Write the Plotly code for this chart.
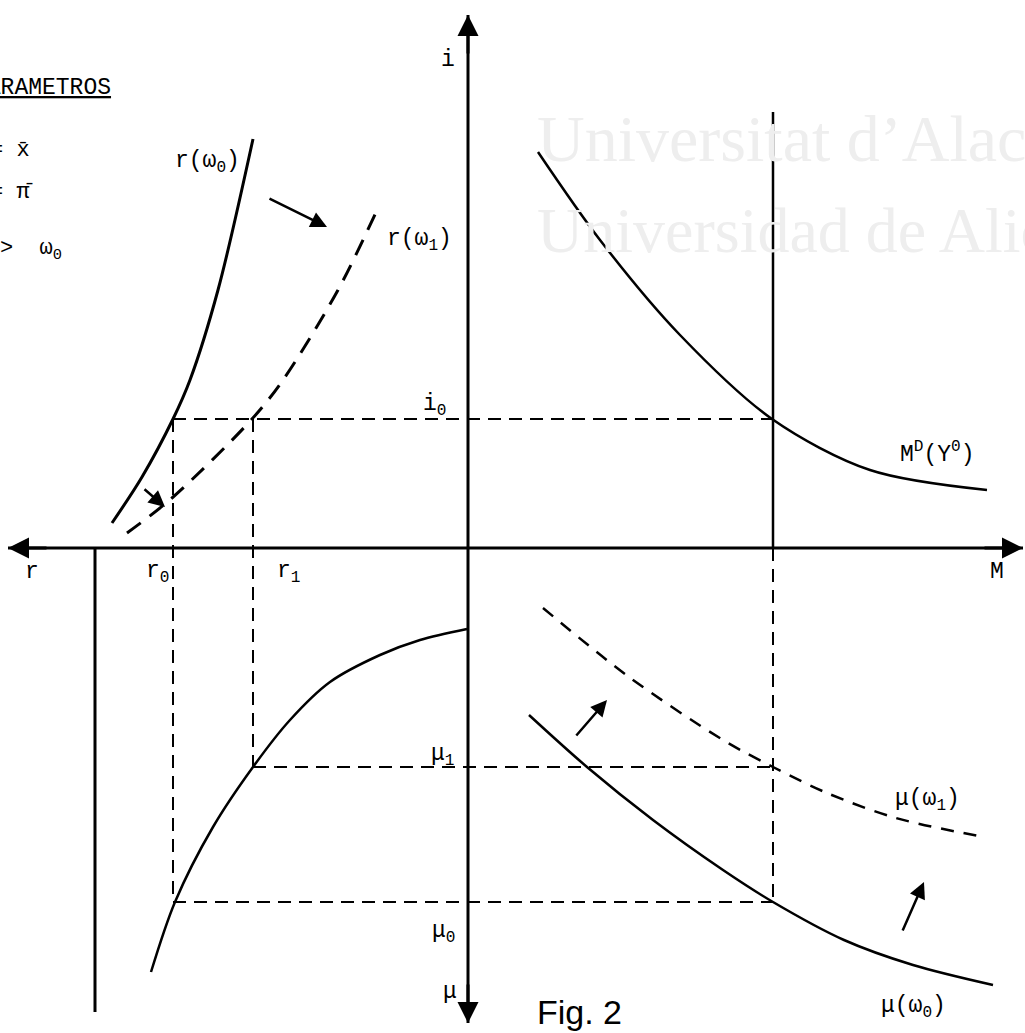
import plotly.graph_objects as go

# ---- data (units relative to the axes origin; x right = M, x left = r, y up = i, y down = mu) ----
r_w0_x = [-356, -326, -295, -278, -250, -215]
r_w0_y = [25, 71, 129, 168, 258, 409]

r_w1_x = [-341, -296, -216, -185, -130, -90]
r_w1_y = [15, 50, 129, 168, 258, 340]

md_x = [70, 132, 212, 304, 402, 519]
md_y = [396, 308, 213, 129, 78, 58]

mu_r_x = [-317, -293, -255, -215, -178, -138, -88, -48, -1]
mu_r_y = [-424, -354, -279, -219, -172, -134, -107, -92, -81]

mu_w0_x = [61, 119, 185, 255, 305, 376, 445, 525]
mu_w0_y = [-167, -219, -272, -322, -354, -392, -417, -437]

mu_w1_x = [75, 161, 255, 305, 359, 428, 516]
mu_w1_y = [-60, -129, -192, -219, -245, -270, -289]

# equilibrium reference values
i0 = 129
mu1 = -219
mu0 = -354
r0 = -295
r1 = -215
M0 = 305
i_top = 436
left_line_x = -373
left_line_bottom = -464

# axes extents
x_axis = [-460, 555]
y_axis = [533, -475]

# shift arrows (tail x, tail y, head x, head y)
shift_arrows = [
    (-200, 350, -141, 321),
    (-325, 60, -303, 41),
    (107, -189, 139, -152),
    (434, -384, 456, -334),
]

fig = go.Figure()

def line(x, y, width=2.5, dash=None, shape="spline"):
    fig.add_trace(go.Scatter(
        x=x, y=y, mode="lines",
        line=dict(color="black", width=width, dash=dash, shape=shape, smoothing=0.9),
        hoverinfo="skip", showlegend=False))

DROP = "13px,8px"

# watermark
fig.add_annotation(x=67, y=410, text="Universitat d\u2019Alac", showarrow=False, xanchor="left",
                   font=dict(family="Liberation Serif", size=66, color="#eeeeee"))
fig.add_annotation(x=67, y=318, text="Universidad de Alic", showarrow=False, xanchor="left",
                   font=dict(family="Liberation Serif", size=64, color="#eeeeee"))

# axes
line(x_axis, [0, 0], width=3, shape="linear")
line([0, 0], y_axis, width=3, shape="linear")
line([left_line_x, left_line_x], [0, left_line_bottom], width=3, shape="linear")
line([M0, M0], [0, i_top], width=2.5, shape="linear")

# drop lines
line([r0, M0], [i0, i0], width=2, dash=DROP, shape="linear")
line([r1, M0], [mu1, mu1], width=2, dash=DROP, shape="linear")
line([r0, M0], [mu0, mu0], width=2, dash=DROP, shape="linear")
line([r0, r0], [i0, mu0], width=2, dash=DROP, shape="linear")
line([r1, r1], [i0, mu1], width=2, dash=DROP, shape="linear")
line([M0, M0], [0, mu0], width=2, dash=DROP, shape="linear")

# curves
line(r_w0_x, r_w0_y, width=3)
line(r_w1_x, r_w1_y, width=3, dash="17px,11px")
line(md_x, md_y, width=2.5)
line(mu_r_x, mu_r_y, width=2.5)
line(mu_w0_x, mu_w0_y, width=2.5)
line(mu_w1_x, mu_w1_y, width=2.5, dash="13px,10px")

# axis arrowheads
for (tx, ty, hx, hy) in [(x_axis[0] + 40, 0, x_axis[0], 0), (x_axis[1] - 40, 0, x_axis[1], 0),
                          (0, y_axis[0] - 40, 0, y_axis[0]), (0, y_axis[1] + 40, 0, y_axis[1])]:
    fig.add_annotation(x=hx, y=hy, ax=tx, ay=ty, xref="x", yref="y", axref="x", ayref="y",
                       text="", showarrow=True, arrowhead=2, arrowsize=1.4, arrowwidth=3,
                       arrowcolor="black")

for (tx, ty, hx, hy) in shift_arrows:
    fig.add_annotation(x=hx, y=hy, ax=tx, ay=ty, xref="x", yref="y", axref="x", ayref="y",
                       text="", showarrow=True, arrowhead=2, arrowsize=1.3, arrowwidth=2.5,
                       arrowcolor="black")

MONO = "Liberation Mono"
labels = [
    (-20, 488, "i"),
    (-34, 143, "i<sub>0</sub>"),
    (-436, -24, "r"),
    (-311, -24, "r<sub>0</sub>"),
    (-180, -24, "r<sub>1</sub>"),
    (529, -24, "M"),
    (-26, -207, "\u03bc<sub>1</sub>"),
    (-25, -384, "\u03bc<sub>0</sub>"),
    (-18, -444, "\u03bc"),
    (-261, 386, "r(\u03c9<sub>0</sub>)"),
    (-49, 308, "r(\u03c9<sub>1</sub>)"),
    (469, 95, "M<sup>D</sup>(Y<sup>0</sup>)"),
    (459, -252, "\u03bc(\u03c9<sub>1</sub>)"),
    (445, -459, "\u03bc(\u03c9<sub>0</sub>)"),
]
for (x, y, t) in labels:
    fig.add_annotation(x=x, y=y, text=t, showarrow=False,
                       font=dict(family=MONO, size=23, color="black"))

fig.add_annotation(x=111, y=-464, text="Fig. 2", showarrow=False,
                   font=dict(family="Liberation Sans", size=34, color="black"))

# parameter box text (clipped at the left edge)
fig.add_annotation(x=-355, y=460, text="<u>PARAMETROS</u>", showarrow=False, xanchor="right",
                   font=dict(family=MONO, size=23, color="black"))
fig.add_annotation(x=-0.012, xref="paper", y=398, text="= x\u0304", showarrow=False, xanchor="left",
                   font=dict(family=MONO, size=22, color="black"))
fig.add_annotation(x=-0.012, xref="paper", y=356, text="= \u03c0\u0304", showarrow=False, xanchor="left",
                   font=dict(family=MONO, size=22, color="black"))
fig.add_annotation(x=-0.002, xref="paper", y=298, text="&gt;  \u03c9<sub>0</sub>", showarrow=False,
                   xanchor="left", font=dict(family=MONO, size=22, color="black"))

fig.update_layout(
    width=1025, height=1033,
    margin=dict(l=0, r=0, t=0, b=0),
    paper_bgcolor="white", plot_bgcolor="white",
    xaxis=dict(range=[-468, 557], visible=False, fixedrange=True),
    yaxis=dict(range=[-485, 548], visible=False, fixedrange=True),
    showlegend=False,
)

fig.write_html("out.html", config={"displayModeBar": False},
               post_script="document.body.style.margin='0';document.body.style.overflow='hidden';")
